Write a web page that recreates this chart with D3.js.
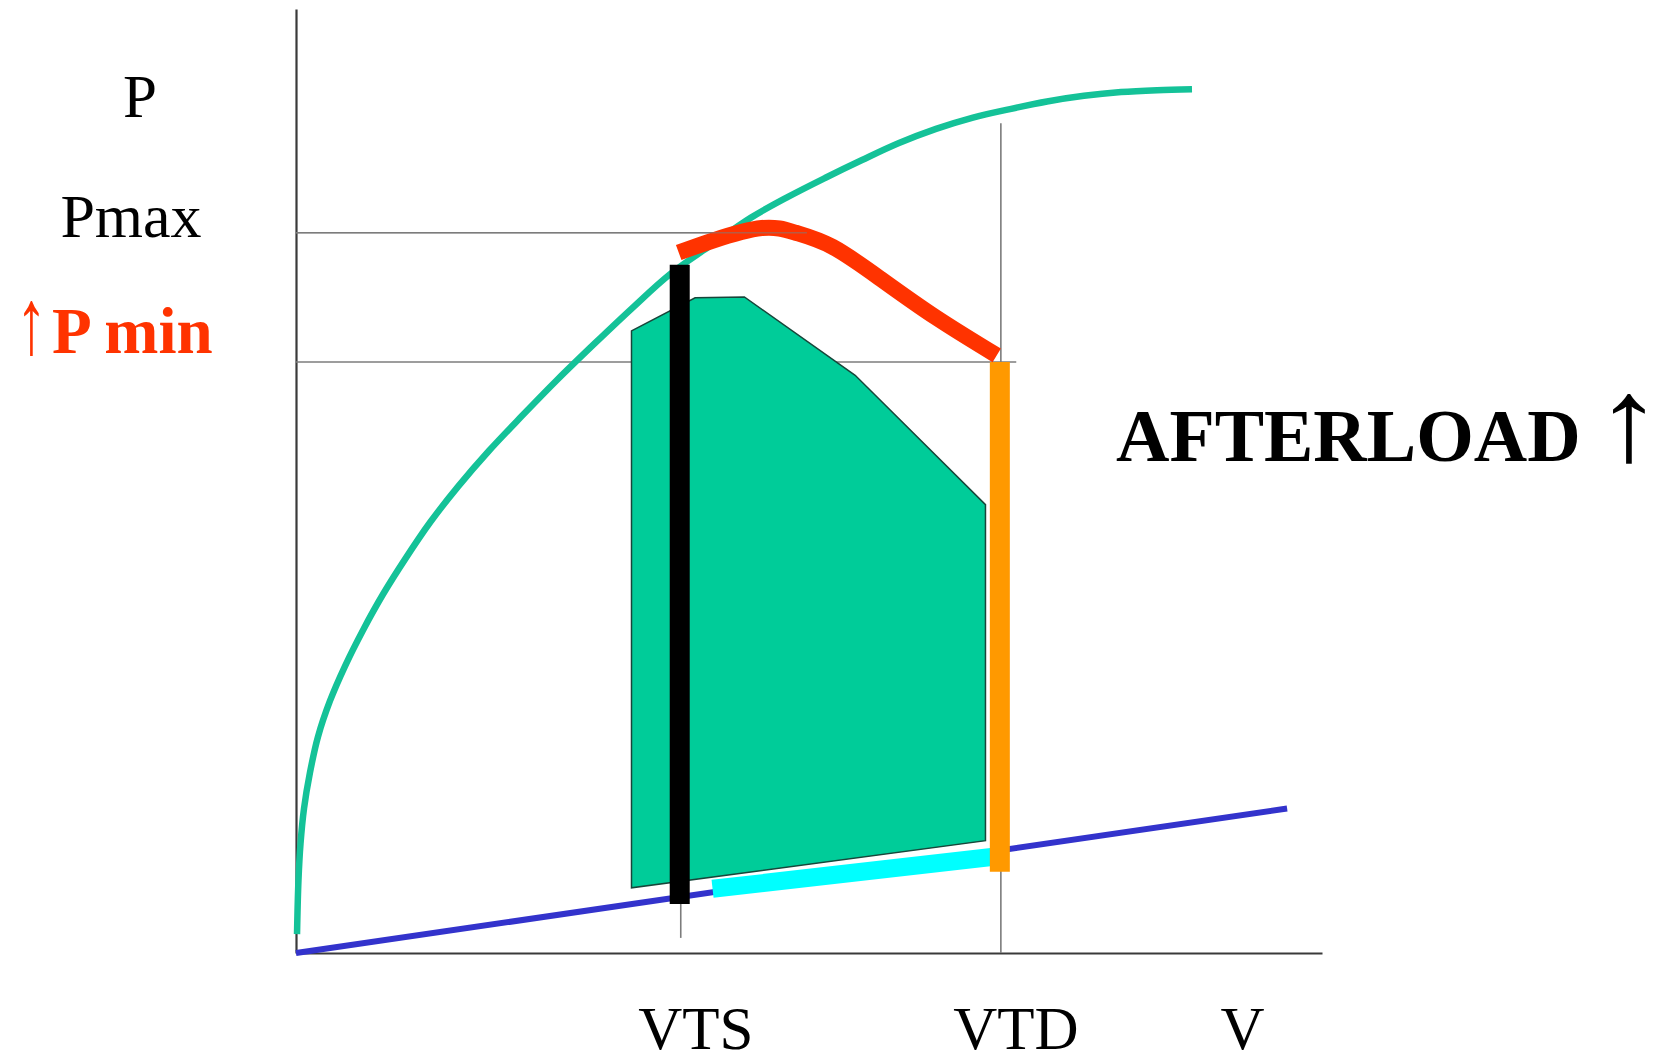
<!DOCTYPE html>
<html>
<head>
<meta charset="utf-8">
<script src="https://cdn.jsdelivr.net/npm/d3@7"></script>
<style>
  html, body { margin: 0; padding: 0; background: #ffffff; }
  svg { display: block; }
  text { font-family: "Liberation Serif", "Times New Roman", serif; }
</style>
</head>
<body>
<div id="chart"></div>
<script>
// Pressure–volume loop: raised afterload (volume and pressure in arbitrary units, 0–100)

// End-systolic pressure–volume relation (green curve)
const espvrV = [0.10, 0.24, 0.44, 0.78, 1.36, 2.14, 3.31, 4.78, 6.53, 8.48, 10.62, 13.06, 15.79, 18.81, 22.03, 25.44, 29.14, 32.85, 36.45, 40.35, 44.35, 47.95, 51.56, 55.17, 58.77, 62.38, 65.98, 69.59, 73.20, 76.80, 80.41, 83.92, 87.33];
const espvrP = [2.0, 7.7, 11.6, 15.3, 19.1, 22.9, 26.7, 30.4, 34.2, 38.0, 41.7, 45.6, 49.4, 53.2, 56.9, 60.7, 64.6, 68.4, 71.9, 74.9, 77.9, 80.1, 82.1, 84.0, 85.8, 87.3, 88.5, 89.4, 90.2, 90.8, 91.2, 91.4, 91.5];

// End-diastolic pressure–volume relation (blue line)
const edpvrV = [0, 96.6];
const edpvrP = [0, 15.3];

// Ejection phase at raised afterload (red curve)
const ejectV = [37.3, 40.7, 45.4, 48.7, 52.3, 57.0, 62.4, 68.3];
const ejectP = [74.2, 75.5, 76.8, 76.3, 74.8, 71.4, 67.3, 63.3];

// Baseline loop (filled polygon)
const loopV = [32.7, 38.9, 43.7, 54.5, 67.2, 67.2, 32.7];
const loopP = [65.9, 69.4, 69.5, 61.2, 47.5, 11.9, 6.9];

// Diastolic filling segment (cyan)
const fillV = [40.6, 68.0];
const fillP = [6.8, 10.2];

// Isovolumic phases: relaxation at VTS (black), contraction at VTD (orange)
const phaseV = [37.4, 68.6];
const phaseTop = [72.9, 62.6];
const phaseBottom = [5.2, 8.6];

// Reference pressure levels (Pmax, Pmin) and where their guide lines stop
const refP = [76.3, 62.6];
const refEndV = [49.8, 70.2];

// Volume markers and labels
const volTicks = [37.5, 68.7, 90.8];
const volLabels = ["VTS", "VTD", "V"];
const vtdGuideTop = 87.9;
const vtsGuideBottom = 1.6;

// Pressure-side labels
const presLabelP = [88.6, 75.9, 63.6];
const presLabels = ["P", "Pmax", "P min"];

const W = 1672, H = 1063;
const svg = d3.select("#chart").append("svg")
  .attr("width", W).attr("height", H)
  .attr("viewBox", `0 0 ${W} ${H}`);

const x = d3.scaleLinear().domain([0, 100]).range([296, 1322]);
const y = d3.scaleLinear().domain([0, 100]).range([953, 9]);

const zip = (a, b) => a.map((v, i) => [v, b[i]]);
const lineGen = curve => d3.line().x(d => x(d[0])).y(d => y(d[1])).curve(curve);

// Axes (bare lines, no ticks)
svg.append("g").attr("transform", `translate(0,${y(0)})`)
  .call(d3.axisBottom(x).tickValues([]).tickSizeOuter(0));
svg.append("g").attr("transform", `translate(${x(0)},0)`)
  .call(d3.axisLeft(y).tickValues([]).tickSizeOuter(0));
svg.selectAll(".domain").attr("stroke", "#3a3a3a").attr("stroke-width", 2.2);

// Guide lines
const guide = svg.append("g").attr("stroke", "#7c7c7c").attr("stroke-width", 1.6);
guide.append("line")
  .attr("x1", x(volTicks[1])).attr("x2", x(volTicks[1]))
  .attr("y1", y(vtdGuideTop)).attr("y2", y(0));
guide.append("line")
  .attr("x1", x(volTicks[0])).attr("x2", x(volTicks[0]))
  .attr("y1", y(phaseBottom[0])).attr("y2", y(vtsGuideBottom));
guide.selectAll("line.ref").data(refP).join("line").attr("class", "ref")
  .attr("x1", x(0)).attr("x2", (d, i) => x(refEndV[i]))
  .attr("y1", d => y(d)).attr("y2", d => y(d));

// ESPVR curve
svg.append("path")
  .attr("d", lineGen(d3.curveCatmullRom.alpha(0.5))(zip(espvrV, espvrP)))
  .attr("fill", "none").attr("stroke", "#14c298").attr("stroke-width", 6.5);

// EDPVR line
svg.append("path")
  .attr("d", lineGen(d3.curveLinear)(zip(edpvrV, edpvrP)))
  .attr("fill", "none").attr("stroke", "#3333cc").attr("stroke-width", 6);

// Baseline loop
svg.append("path")
  .attr("d", lineGen(d3.curveLinearClosed)(zip(loopV, loopP)))
  .attr("fill", "#00cc99").attr("stroke", "#17463a").attr("stroke-width", 1.5);

// Diastolic filling
svg.append("path")
  .attr("d", lineGen(d3.curveLinear)(zip(fillV, fillP)))
  .attr("fill", "none").attr("stroke", "#00ffff").attr("stroke-width", 18);

// Isovolumic phases
const phaseColors = ["#000000", "#ff9900"];
svg.append("g").selectAll("line").data(phaseV).join("line")
  .attr("x1", d => x(d)).attr("x2", d => x(d))
  .attr("y1", (d, i) => y(phaseTop[i])).attr("y2", (d, i) => y(phaseBottom[i]))
  .attr("stroke", (d, i) => phaseColors[i]).attr("stroke-width", 20);

// Ejection at raised afterload
svg.append("path")
  .attr("d", lineGen(d3.curveNatural)(zip(ejectV, ejectP)))
  .attr("fill", "none").attr("stroke", "#ff3300").attr("stroke-width", 16);

// Pmax guide drawn over the ejection curve
svg.append("line")
  .attr("x1", x(0)).attr("x2", x(refEndV[0]))
  .attr("y1", y(refP[0])).attr("y2", y(refP[0]))
  .attr("stroke", "#7c7c7c").attr("stroke-opacity", 0.55).attr("stroke-width", 1.6);

// Volume labels
svg.append("g").selectAll("text").data(volTicks).join("text")
  .attr("x", d => x(d) + 15).attr("y", 1049)
  .attr("text-anchor", "middle").attr("font-size", 61).attr("fill", "#000")
  .text((d, i) => volLabels[i]);

// Pressure labels
svg.append("text").attr("x", 140).attr("y", y(presLabelP[0]))
  .attr("text-anchor", "middle").attr("font-size", 61).text(presLabels[0]);
svg.append("text").attr("x", 131).attr("y", y(presLabelP[1]))
  .attr("text-anchor", "middle").attr("font-size", 62).text(presLabels[1]);
svg.append("text")
  .attr("transform", `translate(16,${y(presLabelP[2])}) scale(1,1.5)`)
  .attr("font-size", 62).attr("fill", "#ff3300").text("↑");
svg.append("text").attr("x", 52).attr("y", y(presLabelP[2]))
  .attr("font-size", 65).attr("font-weight", "bold").attr("fill", "#ff3300")
  .text(presLabels[2]);

// Afterload annotation
svg.append("text").attr("x", 1116).attr("y", 461)
  .attr("font-size", 74).attr("font-weight", "bold").attr("fill", "#000")
  .text("AFTERLOAD");
svg.append("text")
  .attr("transform", "translate(1595,460) scale(1.15,1.0)")
  .attr("font-size", 118).attr("fill", "#000").text("↑");
</script>
</body>
</html>
